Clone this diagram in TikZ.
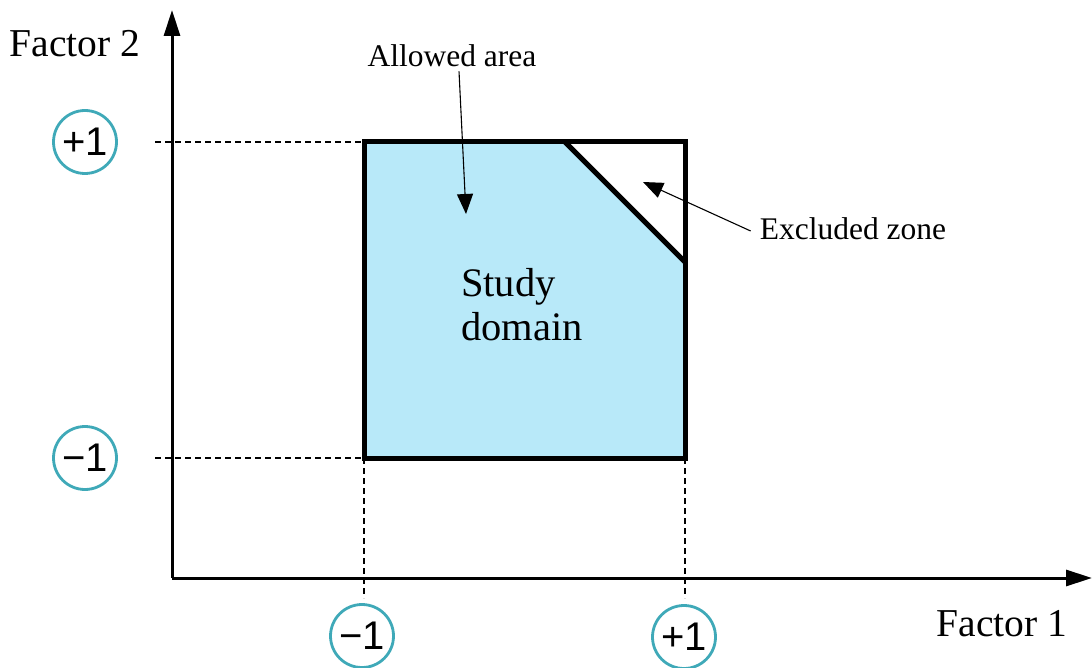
\documentclass[tikz,border=0pt]{standalone}
\usepackage{fontspec}
\setmainfont{Liberation Serif}
\newfontfamily\numfont{Liberation Sans}
\usetikzlibrary{arrows.meta}
\definecolor{domainblue}{HTML}{B8E9F9}
\definecolor{ringteal}{HTML}{3FA9B8}
\tikzset{
  axis/.style={line width=3pt,-{Triangle[length=26pt,width=16pt]}},
  guide/.style={line width=1.3pt,dash pattern=on 6pt off 4pt},
  levelring/.style={circle,draw=ringteal,line width=2.8pt,minimum size=63pt,inner sep=0pt,font=\numfont\fontsize{40}{40}\selectfont},
  pointer/.style={line width=1.1pt,-{Triangle[length=20pt,width=16pt]}},
  lbl/.style={font=\fontsize{31.5}{34}\selectfont,inner sep=0pt}
}
\begin{document}
\begin{tikzpicture}[x=1pt,y=-1pt]
\useasboundingbox (0,0) rectangle (1092,668);
% coordinates
\coordinate (O) at (172,578);
\coordinate (ytop) at (172,10);
\coordinate (xend) at (1092,578);
\coordinate (A) at (364,458);
\coordinate (B) at (685,458);
\coordinate (C) at (685,262);
\coordinate (D) at (565,142);
\coordinate (E) at (364,142);
\coordinate (Ctop) at (685,142);
% domain
\fill[domainblue] (A) -- (B) -- (C) -- (D) -- (E) -- cycle;
% guides
\draw[guide] (155,142) -- (E);
\draw[guide] (155,458) -- (A);
\draw[guide] (A) -- (364,598);
\draw[guide] (B) -- (685,598);
% outline
\draw[line width=5pt,line join=miter] (A) -- (B) -- (Ctop) -- (E) -- cycle;
\draw[line width=5pt] (D) -- (C);
% axes
\draw[axis] (O) -- (ytop);
\draw[axis] (O) -- (xend);
% rings
\node[levelring] (yp) at (85,142) {+1};
\node[levelring] (ym) at (85,458) {−1};
\node[levelring] (xm) at (362,636) {−1};
\node[levelring] (xp) at (684,637) {+1};
% labels
\node[font=\fontsize{39.5}{42}\selectfont,inner sep=0pt] (f2) at (75,44) {Factor 2};
\node[font=\fontsize{39.5}{42}\selectfont,inner sep=0pt] (f1) at (1002,624) {Factor 1};
\node[lbl] (allowed) at (452,56) {Allowed area};
\node[lbl] (excluded) at (853,229) {Excluded zone};
\node[font=\fontsize{40.5}{44}\selectfont,align=left,inner sep=0pt,anchor=west] (study) at (461,305) {Study\\domain};
% pointers
\coordinate (atip) at (466,214);
\coordinate (etip) at (643,182);
\draw[pointer] (allowed.south) ++(7,4) -- (atip);
\draw[pointer] (excluded.west) ++(-9,2) -- (etip);
\end{tikzpicture}
\end{document}
